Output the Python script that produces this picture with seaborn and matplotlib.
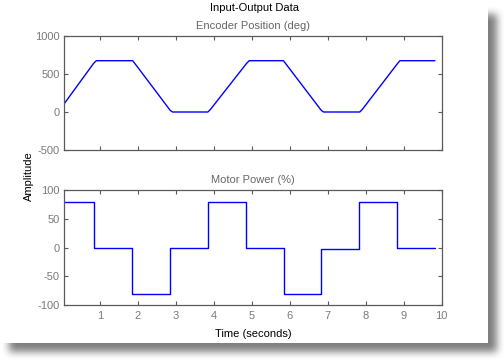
import numpy as np
import matplotlib
matplotlib.use("Agg")
import matplotlib.pyplot as plt
import seaborn as sns

# Encoder position (deg), read at the ramp/plateau corners
enc_time = [0.05, 0.83, 0.90, 1.86, 1.93, 2.85, 2.91, 3.84, 3.91, 4.86, 4.93,
            5.83, 5.90, 6.83, 6.89, 7.84, 7.91, 8.84, 8.90, 9.82]
enc_pos = [105, 640, 675, 675, 630, 20, 0, 0, 35, 640, 675,
           675, 630, 20, 0, 0, 35, 640, 675, 675]

# Motor power (%), piecewise constant from each switch time
pow_time = [0.05, 0.85, 1.85, 2.83, 3.84, 4.84, 5.85, 6.83, 7.83, 8.81, 9.82]
pow_val = [80, 0, -80, 0, 80, 0, -80, -2, 80, 0, 0]

x_ticks = [1, 2, 3, 4, 5, 6, 7, 8, 9, 10]
enc_ticks = [-500, 0, 500, 1000]
pow_ticks = [-100, -50, 0, 50, 100]

sns.set_theme(style="white")
plt.rcParams["font.family"] = ["Liberation Sans", "DejaVu Sans"]
plt.rcParams["font.size"] = 8
plt.rcParams["axes.unicode_minus"] = False

W, H = 504, 360
fig = plt.figure(figsize=(W / 100, H / 100), dpi=100)
fig.patch.set_facecolor("white")

# drop shadow behind the white card
bg = fig.add_axes([0, 0, 1, 1], zorder=-10)
mask = np.zeros((H, W))
mask[14:352, 9:497] = 1.0
k = np.ones(9) / 9
for _ in range(2):
    mask = np.apply_along_axis(lambda r: np.convolve(r, k, mode="same"), 1, mask)
    mask = np.apply_along_axis(lambda c: np.convolve(c, k, mode="same"), 0, mask)
img = 1 - 0.5 * mask
img[0:343, 0:488] = 1.0
bg.imshow(img, cmap="gray", vmin=0, vmax=1, aspect="auto", interpolation="bilinear")
bg.axis("off")

tick_col = "#7a7a7a"
spine_col = "#5a5a5a"


def style(ax):
    ax.set_facecolor("white")
    for s in ax.spines.values():
        s.set_color(spine_col)
        s.set_linewidth(0.9)
    ax.tick_params(direction="in", length=3, width=0.8, color=spine_col,
                   labelcolor=tick_col, labelsize=8, top=True, right=True,
                   left=True, bottom=True)
    ax.tick_params(axis="y", pad=3)
    ax.tick_params(axis="x", pad=4)
    ax.set_xlim(0.05, 10)
    ax.set_xticks(x_ticks)
    ax.set_xlabel("")
    ax.set_ylabel("")


ax1 = fig.add_axes([64 / W, 1 - 150 / H, 377.7 / W, 114 / H])
sns.lineplot(x=enc_time, y=enc_pos, ax=ax1, color="#0000ff", linewidth=1, sort=False)
style(ax1)
ax1.set_ylim(-500, 1000)
ax1.set_yticks(enc_ticks)
ax1.set_xticklabels([])
ax1.set_title("Encoder Position (deg)", fontsize=8, color="#666666", pad=5)

ax2 = fig.add_axes([64 / W, 1 - 305.3 / H, 377.7 / W, 115.3 / H])
sns.lineplot(x=pow_time, y=pow_val, ax=ax2, color="#0000ff", linewidth=1,
             drawstyle="steps-post", sort=False)
style(ax2)
ax2.set_ylim(-100, 100)
ax2.set_yticks(pow_ticks)
ax2.set_title("Motor Power (%)", fontsize=8, color="#666666", pad=5)
ax2.set_xlabel("Time (seconds)", fontsize=8, color="black", labelpad=6)

fig.text(254 / W, 1 - 8 / H, "Input-Output Data", ha="center", va="center",
         fontsize=8, color="black")
fig.text(29 / W, 1 - 176 / H, "Amplitude", ha="center", va="center",
         rotation=90, fontsize=8, color="black")

fig.savefig("out.png", dpi=100)
